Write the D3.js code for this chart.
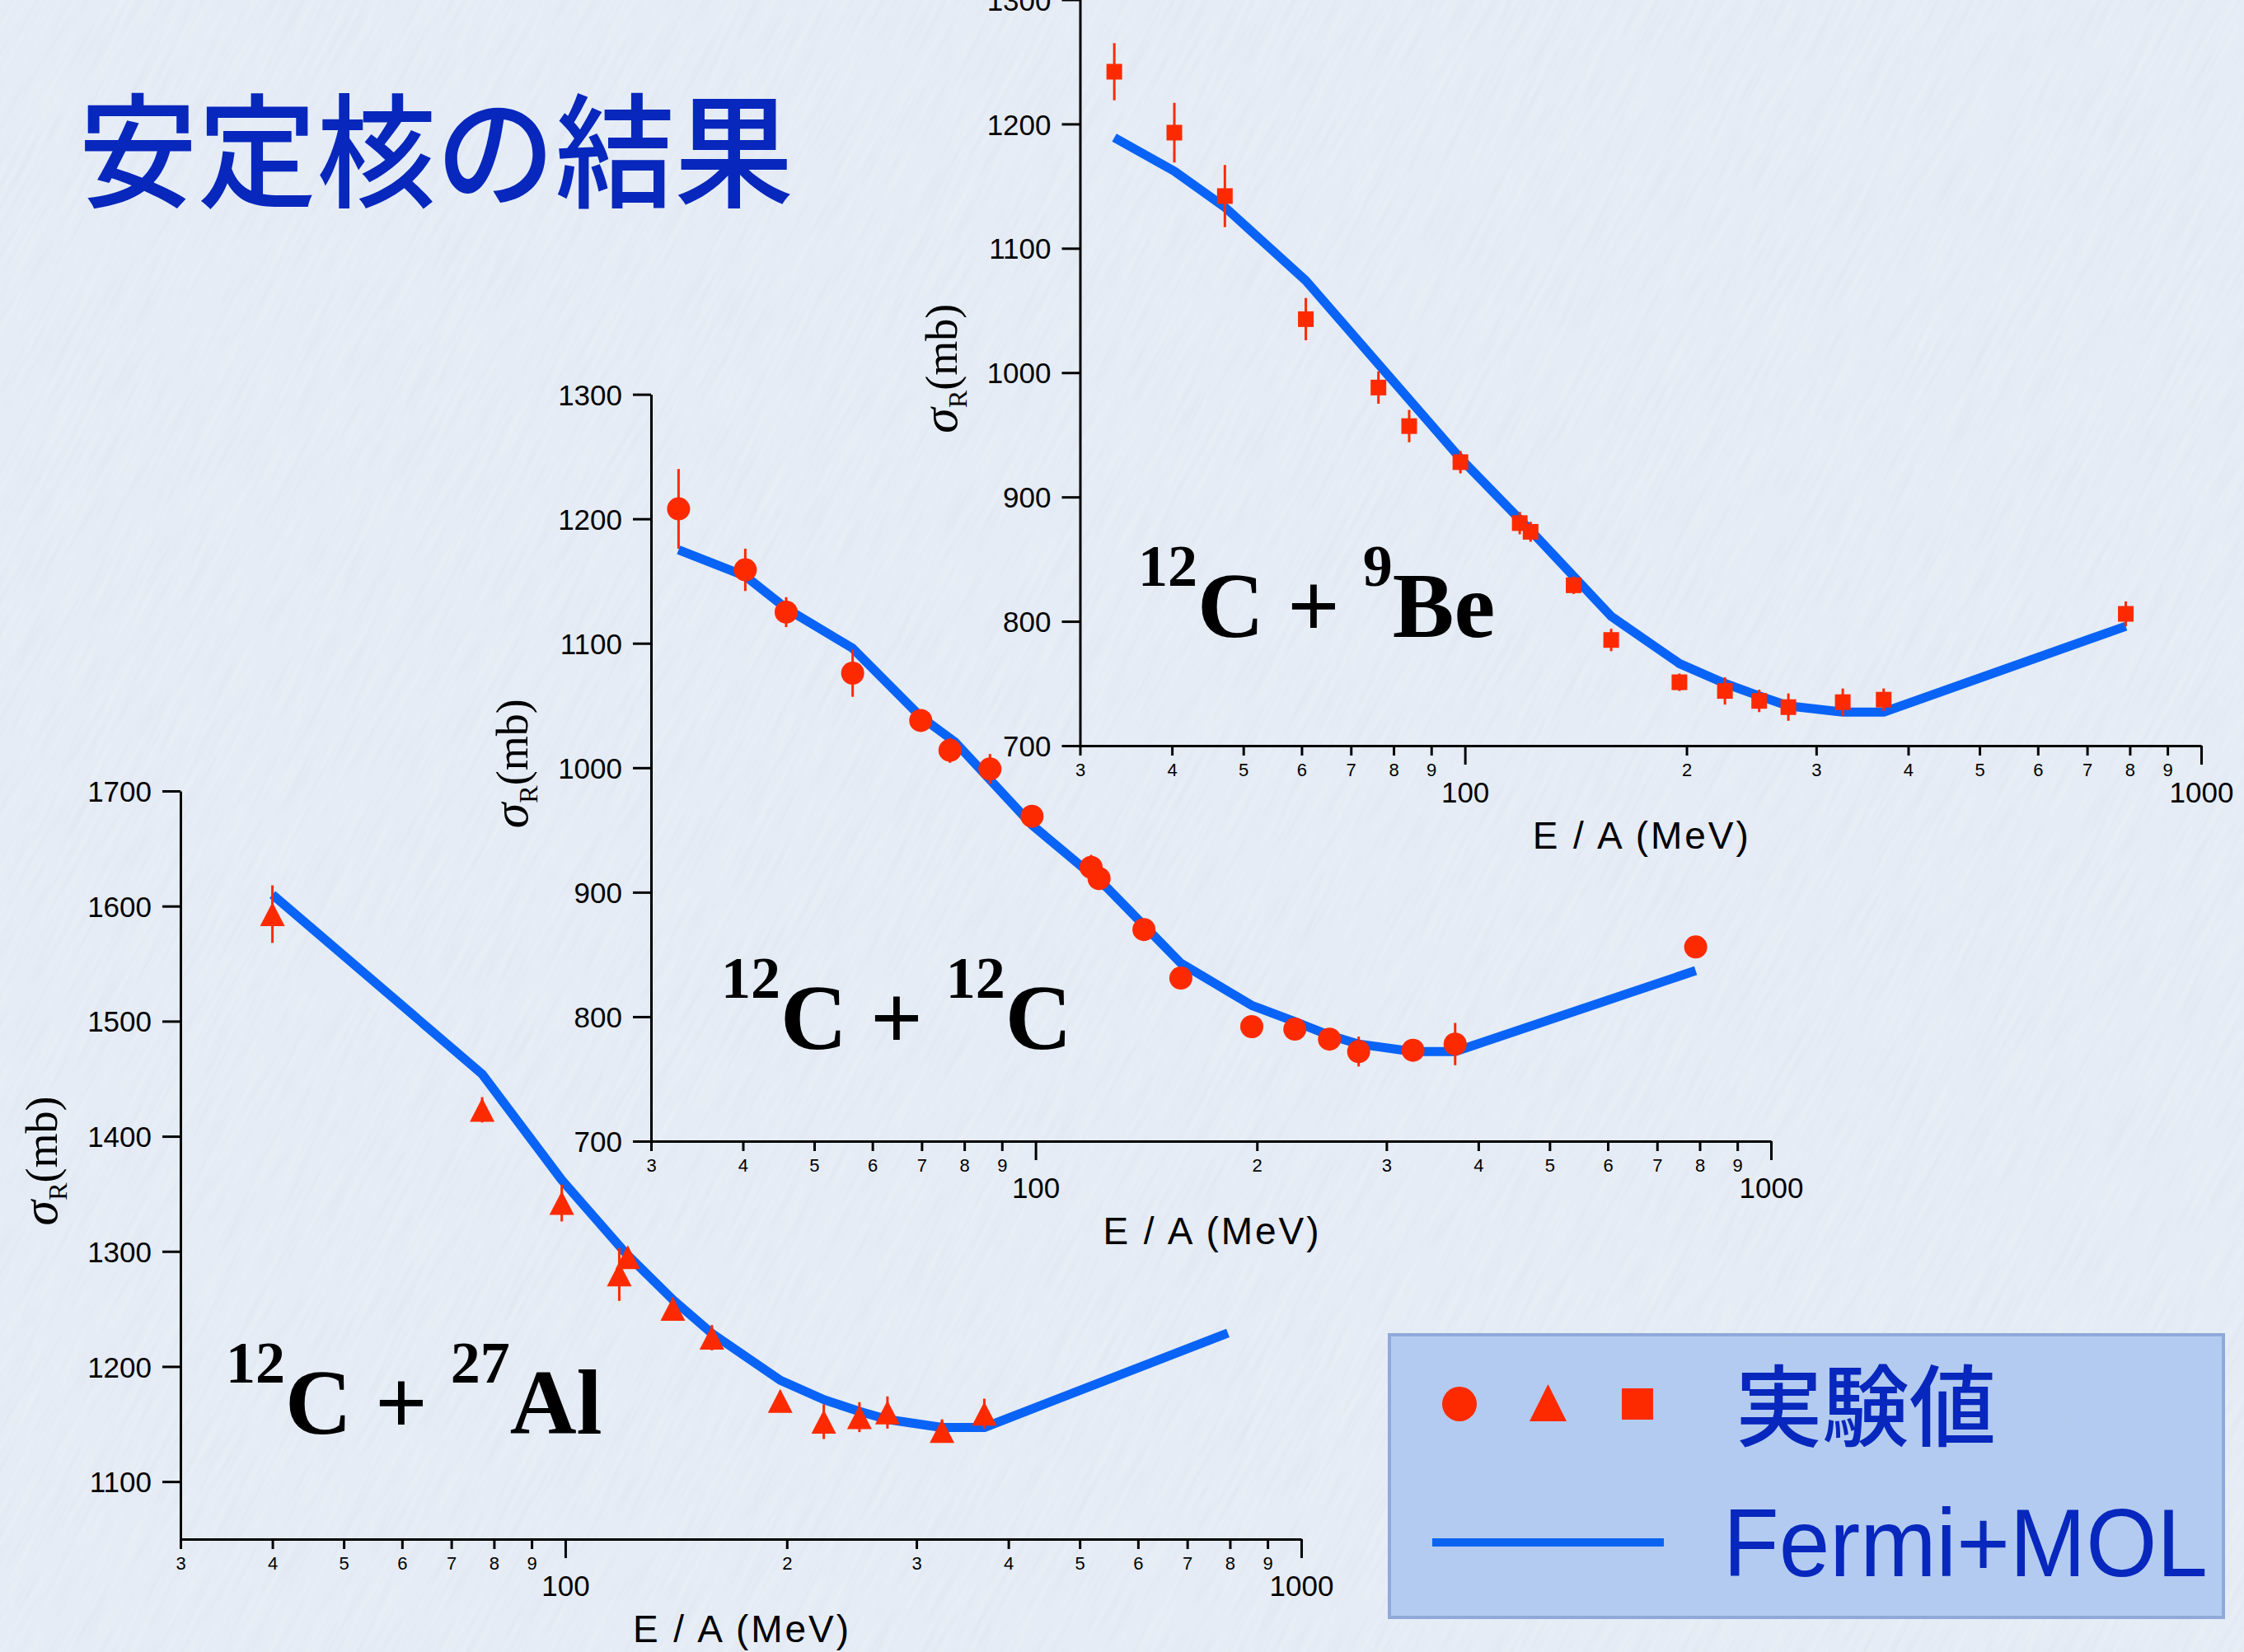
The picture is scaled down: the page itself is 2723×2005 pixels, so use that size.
<!DOCTYPE html>
<html>
<head>
<meta charset="utf-8">
<script src="https://cdn.jsdelivr.net/npm/d3@7"></script>
<style>
  html, body { margin: 0; padding: 0; background: #e5ecf5; }
  svg { display: block; }
  text { white-space: pre; }
</style>
</head>
<body>
<svg id="chart" width="2723" height="2005"></svg>
<script>
// Reaction cross sections sigma_R (mb) versus incident energy per nucleon E/A (MeV)

// 12C + 9Be : measured points (square markers)
const beEnergy = [33.4, 40.3, 47.2, 60.8, 76.3, 84, 98.6, 118.7, 122.8, 140.5, 158, 195.6, 225.5, 251, 275, 326, 370.5, 790];
const beSigma  = [1242, 1193, 1142, 1043, 988, 957, 928, 879, 872, 829, 785, 751, 744, 736, 731, 735, 737, 806];
const beError  = [23, 24, 25, 17, 13, 13, 9, 9, 8, 7, 9, 7, 11, 9, 11, 11, 9, 10];
// 12C + 9Be : Fermi+MOL calculation
const beModelEnergy = [33.4, 40.3, 47.2, 60.8, 98.6, 122.8, 158, 195.6, 225.5, 251, 275, 326, 370.5, 790];
const beModelSigma  = [1189, 1162, 1133, 1074, 931, 873, 804, 766, 750, 740, 732, 727, 727, 796];

// 12C + 12C : measured points (circle markers)
const ccEnergy = [32.7, 40.3, 45.8, 56.4, 69.8, 76.5, 86.7, 98.9, 119, 122, 140.4, 157.6, 196.8, 225.2, 251, 275, 326, 372, 790];
const ccSigma  = [1208, 1159, 1125, 1076, 1038, 1014, 999, 961, 920, 911, 870, 831, 792, 790, 782, 772, 773, 778, 856];
const ccError  = [32, 17, 12, 19, 7, 10, 12, 9, 10, 8, 8, 8, 5, 6, 8, 12, 7, 17, 5];
// 12C + 12C : Fermi+MOL calculation
const ccModelEnergy = [32.7, 40.3, 45.8, 56.4, 69.8, 77.6, 98.9, 125.4, 157.6, 196.8, 225.2, 251, 275, 326, 372, 790];
const ccModelSigma  = [1175, 1154, 1128, 1096, 1041, 1021, 954, 903, 843, 809, 796, 785, 778, 772, 772, 837];

// 12C + 27Al : measured points (triangle markers)
const alEnergy = [40, 77.1, 98.9, 118.4, 121.6, 140, 158.2, 195.9, 224.5, 251, 274, 325, 371];
const alSigma  = [1593, 1423, 1342, 1280, 1295, 1250, 1225, 1170, 1152, 1156, 1160, 1144, 1159];
const alError  = [25, 11, 16, 23, 8, 10, 11, 9, 15, 13, 14, 10, 13];
// 12C + 27Al : Fermi+MOL calculation
const alModelEnergy = [40, 77.1, 98.9, 121, 140, 158, 196, 225, 251, 274, 325, 371, 795];
const alModelSigma  = [1610, 1454, 1362, 1298, 1258, 1229, 1188, 1171, 1161, 1154, 1147, 1147, 1229];

// Axis ticks
const xMinorTicks = [30, 40, 50, 60, 70, 80, 90, 200, 300, 400, 500, 600, 700, 800, 900];
const xMajorTicks = [100, 1000];
const yTicksCarbon = [700, 800, 900, 1000, 1100, 1200, 1300];
const yTicksAl = [1100, 1200, 1300, 1400, 1500, 1600, 1700];

// Text
const titleText = "安定核の結果";
const legendDataText = "実験値";
const legendModelText = "Fermi+MOL";
const xTitle = "E / A (MeV)";

const RED = "#fd2a00";
const BLUE_LINE = "#0863f6";
const BLUE_TEXT = "#0727bd";
const TICK_FONT = "'Liberation Sans', Arial, sans-serif";
const SERIF = "'Liberation Serif', 'Times New Roman', serif";
const CJK = "'Noto Sans CJK JP', sans-serif";

const svg = d3.select("#chart");

// ---- paper-like background ----
const defs = svg.append("defs");
const f = defs.append("filter").attr("id", "paper")
  .attr("x", 0).attr("y", 0).attr("width", "100%").attr("height", "100%");
f.append("feTurbulence").attr("type", "fractalNoise")
  .attr("baseFrequency", "0.012 0.16").attr("numOctaves", 3).attr("seed", 7).attr("result", "noise");
f.append("feColorMatrix").attr("in", "noise").attr("type", "matrix")
  .attr("values", "0 0 0 0 0.60  0 0 0 0 0.64  0 0 0 0 0.70  1.5 0 0 0 -0.80")
  .attr("result", "dark");
f.append("feColorMatrix").attr("in", "noise").attr("type", "matrix")
  .attr("values", "0 0 0 0 1  0 0 0 0 1  0 0 0 0 1  -1.5 0 0 0 0.70")
  .attr("result", "light");
const fm = f.append("feMerge");
fm.append("feMergeNode").attr("in", "dark");
fm.append("feMergeNode").attr("in", "light");

svg.append("rect").attr("width", 2723).attr("height", 2005).attr("fill", "#e5ecf5");
svg.append("g")
  .attr("transform", "translate(1361,1002) rotate(-62) translate(-1800,-1800)")
  .append("rect").attr("width", 3600).attr("height", 3600)
  .attr("filter", "url(#paper)").attr("opacity", 0.3);

// ---- title ----
svg.append("text")
  .attr("x", 95).attr("y", 240)
  .attr("font-family", CJK).attr("font-weight", 500)
  .attr("font-size", 150)
  .attr("textLength", 868).attr("lengthAdjust", "spacingAndGlyphs")
  .attr("fill", BLUE_TEXT)
  .text(titleText);

// ---- panels ----
const panels = [
  {
    energy: alEnergy, sigma: alSigma, err: alError,
    mE: alModelEnergy, mS: alModelSigma, marker: "triangle",
    left: 219, right: 1579, top: 960, bottom: 1868,
    yDomain: [1050, 1700], yTicks: yTicksAl,
    label: { x: 274, y: 1740, parts: [["12", true], ["C + ", false], ["27", true], ["Al", false]] }
  },
  {
    energy: ccEnergy, sigma: ccSigma, err: ccError,
    mE: ccModelEnergy, mS: ccModelSigma, marker: "circle",
    left: 790, right: 2149, top: 478.6, bottom: 1385,
    yDomain: [700, 1300], yTicks: yTicksCarbon,
    label: { x: 875, y: 1273, parts: [["12", true], ["C + ", false], ["12", true], ["C", false]] }
  },
  {
    energy: beEnergy, sigma: beSigma, err: beError,
    mE: beModelEnergy, mS: beModelSigma, marker: "square",
    left: 1310.5, right: 2671, top: -0.5, bottom: 905,
    yDomain: [700, 1300], yTicks: yTicksCarbon,
    label: { x: 1381, y: 773, parts: [["12", true], ["C + ", false], ["9", true], ["Be", false]] }
  }
];

function markerPath(type, cx, cy) {
  if (type === "triangle") {
    return `M${cx},${cy - 14.5}L${cx + 15},${cy + 14.5}L${cx - 15},${cy + 14.5}Z`;
  }
  if (type === "square") {
    return `M${cx - 9.5},${cy - 9.5}h19v19h-19Z`;
  }
  return null;
}

panels.forEach(p => {
  const x = d3.scaleLog().domain([30, 1000]).range([p.left, p.right]);
  const y = d3.scaleLinear().domain(p.yDomain).range([p.bottom, p.top]);
  const g = svg.append("g");

  // y axis
  const yAxis = g.append("g").attr("transform", `translate(${p.left},0)`)
    .call(d3.axisLeft(y).tickValues(p.yTicks).tickSize(22).tickPadding(13).tickSizeOuter(0)
      .tickFormat(d3.format("d")));
  // x axis: minor ticks with leading digit
  const xMinor = g.append("g").attr("transform", `translate(0,${p.bottom})`)
    .call(d3.axisBottom(x).tickValues(xMinorTicks).tickSize(12).tickPadding(9).tickSizeOuter(0)
      .tickFormat(d => String(Math.round(d / Math.pow(10, Math.floor(Math.log10(d)))))));
  // x axis: decades
  const xMajor = g.append("g").attr("transform", `translate(0,${p.bottom})`)
    .call(d3.axisBottom(x).tickValues(xMajorTicks).tickSize(23).tickPadding(21).tickSizeOuter(0)
      .tickFormat(d3.format("d")));
  xMajor.select(".domain").remove();

  [yAxis, xMinor, xMajor].forEach(a => {
    a.selectAll(".domain, .tick line").attr("stroke", "#000").attr("stroke-width", 3);
    a.selectAll("text").attr("font-family", TICK_FONT).attr("fill", "#000");
  });
  yAxis.selectAll("text").attr("font-size", 35).attr("dy", "0.36em");
  xMinor.selectAll("text").attr("font-size", 22);
  xMajor.selectAll("text").attr("font-size", 35);

  // axis titles
  g.append("text")
    .attr("x", (p.left + p.right) / 2).attr("y", p.bottom + 125)
    .attr("text-anchor", "middle")
    .attr("font-family", TICK_FONT).attr("font-size", 46)
    .attr("textLength", 262).attr("lengthAdjust", "spacing")
    .text(xTitle);

  const cy = (p.top + p.bottom) / 2 - 5;
  const yt = g.append("text")
    .attr("transform", `translate(${p.left - 166},${cy}) rotate(-90)`)
    .attr("text-anchor", "middle").attr("dy", "0.3em")
    .attr("font-family", SERIF).attr("font-size", 54);
  yt.append("tspan").attr("font-style", "italic").attr("font-size", 62).text("σ");
  yt.append("tspan").attr("font-size", 32).attr("dy", 12).text("R");
  yt.append("tspan").attr("dy", -12).text("(mb)");

  // Fermi+MOL curve
  const pts = p.mE.map((e, i) => [e, p.mS[i]]);
  g.append("path")
    .attr("d", d3.line().x(d => x(d[0])).y(d => y(d[1]))(pts))
    .attr("fill", "none").attr("stroke", BLUE_LINE).attr("stroke-width", 11)
    .attr("stroke-linejoin", "round");

  // measured points with error bars
  const data = p.energy.map((e, i) => ({ e, s: p.sigma[i], err: p.err[i] }));
  g.append("g").selectAll("line").data(data).join("line")
    .attr("x1", d => x(d.e)).attr("x2", d => x(d.e))
    .attr("y1", d => y(d.s + d.err)).attr("y2", d => y(d.s - d.err))
    .attr("stroke", RED).attr("stroke-width", 3);
  if (p.marker === "circle") {
    g.append("g").selectAll("circle").data(data).join("circle")
      .attr("cx", d => x(d.e)).attr("cy", d => y(d.s)).attr("r", 14)
      .attr("fill", RED);
  } else {
    g.append("g").selectAll("path").data(data).join("path")
      .attr("d", d => markerPath(p.marker, x(d.e), y(d.s)))
      .attr("fill", RED);
  }

  // reaction label
  const lt = g.append("text").attr("x", p.label.x).attr("y", p.label.y)
    .attr("font-family", SERIF).attr("font-weight", "bold").attr("fill", "#000");
  let raised = false;
  p.label.parts.forEach(([t, sup]) => {
    const ts = lt.append("tspan").text(t);
    if (sup) {
      ts.attr("font-size", 72).attr("dy", raised ? 0 : -62);
      raised = true;
    } else {
      ts.attr("font-size", 112).attr("dy", raised ? 62 : 0);
      raised = false;
    }
  });
});

// ---- legend ----
const lg = svg.append("g");
lg.append("rect")
  .attr("x", 1686).attr("y", 1620).attr("width", 1012).attr("height", 343)
  .attr("fill", "#afc8ef").attr("fill-opacity", 0.92)
  .attr("stroke", "#8fa9d9").attr("stroke-width", 4);
lg.append("circle").attr("cx", 1771).attr("cy", 1704).attr("r", 21).attr("fill", RED);
lg.append("path").attr("d", markerPath("triangle", 0, 0))
  .attr("transform", "translate(1878.5,1702.5) scale(1.5,1.55)").attr("fill", RED);
lg.append("rect").attr("x", 1968).attr("y", 1685).attr("width", 38).attr("height", 38).attr("fill", RED);
lg.append("line").attr("x1", 1738).attr("x2", 2019).attr("y1", 1872).attr("y2", 1872)
  .attr("stroke", "#0a64f0").attr("stroke-width", 10);
lg.append("text").attr("x", 2106).attr("y", 1747)
  .attr("font-family", CJK).attr("font-weight", 500).attr("font-size", 108)
  .attr("textLength", 316).attr("lengthAdjust", "spacingAndGlyphs")
  .attr("fill", BLUE_TEXT).text(legendDataText);
lg.append("text").attr("x", 2091).attr("y", 1913)
  .attr("font-family", TICK_FONT).attr("font-size", 117)
  .attr("textLength", 588).attr("lengthAdjust", "spacingAndGlyphs")
  .attr("fill", BLUE_TEXT).text(legendModelText);
</script>
</body>
</html>
